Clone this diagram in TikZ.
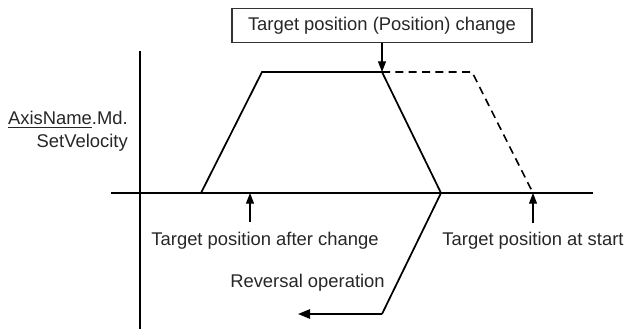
\documentclass[tikz,border=0pt]{standalone}
\usepackage{fontspec}
\setmainfont{Liberation Sans}
\usepackage{tikz}
\usetikzlibrary{arrows.meta}

\tikzset{
  axisline/.style={line width=0.8pt},
  profile/.style={line width=1.3pt, line join=miter},
  pointer/.style={line width=0.8pt, -{Triangle[length=8pt, width=6pt]}},
  lbl/.style={font=\fontsize{13.8}{17}\selectfont, text=black!85, inner sep=0pt},
}

\begin{document}
\begin{tikzpicture}[x=0.75pt, y=-0.75pt]
  \useasboundingbox (0,0) rectangle (628,329);

  % Axes
  \coordinate (vtop) at (140,51);
  \coordinate (vbot) at (140,329);
  \coordinate (hleft) at (111,193);
  \coordinate (hright) at (593,193);
  \draw[axisline] (vtop) -- (vbot);
  \draw[axisline] (hleft) -- (hright);

  % Velocity profile after the change
  \coordinate (accstart) at (201,193);
  \coordinate (acctop) at (262,72);
  \coordinate (chg) at (382,72);
  \coordinate (zero) at (441,193);
  \coordinate (revbend) at (382,314);
  \coordinate (revend) at (298,314);
  \draw[profile] (accstart) -- (acctop) -- (chg) -- (zero) -- (revbend);
  \draw[profile, -{Triangle[length=9pt, width=7pt]}] (revbend) -- (revend);

  % Original profile (dashed)
  \coordinate (oldtop) at (472,72);
  \coordinate (oldend) at (533,193);
  \draw[profile, line width=1.2pt, dash pattern=on 6pt off 4pt] (chg) -- (oldtop) -- (oldend);

  % Change command
  \node[lbl, draw=black!80, line width=0.8pt, minimum width=225pt, minimum height=26pt,
        inner xsep=6pt] (cmd) at (382,25.5) {Target position (Position) change};
  \draw[pointer] (cmd.south) -- (chg);

  % Target positions
  \coordinate (newtail) at (250,222);
  \coordinate (newpos) at (250,193);
  \coordinate (oldtail) at (533,223);
  \draw[pointer] (newtail) -- (newpos);
  \draw[pointer] (oldtail) -- (oldend);
  \node[lbl] (newlbl) at (265,241) {Target position after change};
  \node[lbl] (oldlbl) at (533,241) {Target position at start};
  \node[lbl] (revlbl) at (307.5,283) {Reversal operation};

  % Axis label
  \node[lbl, align=right, anchor=east] (vlbl) at (128,131.5)
    {\underline{AxisName}.Md.\\SetVelocity};
\end{tikzpicture}
\end{document}
